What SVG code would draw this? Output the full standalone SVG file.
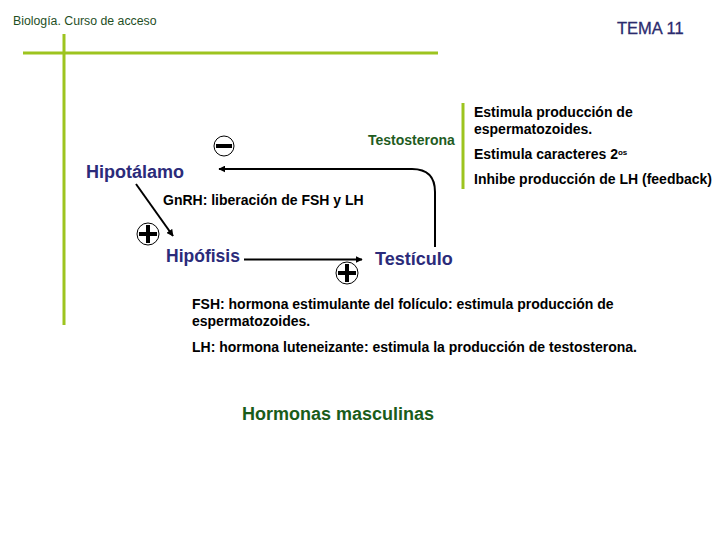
<svg xmlns="http://www.w3.org/2000/svg" width="720" height="540" viewBox="0 0 720 540">
<defs>
<marker id="ah" viewBox="0 0 10 10" refX="9" refY="5" markerWidth="7" markerHeight="7" markerUnits="userSpaceOnUse" orient="auto"><path d="M0,0 L10,5 L0,10 z" fill="#000"/></marker>
<style>
text{font-family:"Liberation Sans",Arial,sans-serif}
.b{font-weight:bold;font-size:14px;fill:#000}
.n{font-weight:bold;font-size:18px;fill:#2b2b7a}
.g{stroke:#9dc41f;stroke-width:3;fill:none}
.c{stroke:#000;stroke-width:2;fill:none}
.s{fill:#fff;stroke:#000;stroke-width:1}
</style>
</defs>
<rect width="720" height="540" fill="#fff"/>
<g id="header">
<text x="13" y="25" font-size="12.3" fill="#1f4f1f">Biología. Curso de acceso</text>
<text x="617" y="34" font-size="16.5" fill="#2b2b6e" stroke="#2b2b6e" stroke-width="0.3">TEMA 11</text>
<line class="g" x1="23" y1="53" x2="438" y2="53"/>
<line class="g" x1="64" y1="34" x2="64" y2="325"/>
<line class="g" x1="463" y1="103" x2="463" y2="189"/>
</g>
<g id="connectors">
<path class="c" d="M435 247 L435 192 Q435 169 412 169 L219 169" marker-end="url(#ah)"/>
<line class="c" x1="136" y1="184" x2="173" y2="236" marker-end="url(#ah)"/>
<line class="c" x1="244" y1="259.5" x2="362" y2="259.5" marker-end="url(#ah)"/>
</g>
<g id="signs">
<g id="minus"><circle class="s" cx="224" cy="146" r="10"/><rect x="216" y="144" width="16" height="4" fill="#000"/></g>
<g id="plus1"><circle class="s" cx="148" cy="234" r="11"/><rect x="139" y="232" width="18" height="4" fill="#000"/><rect x="146" y="225" width="4" height="18" fill="#000"/></g>
<g id="plus2"><circle class="s" cx="347" cy="273" r="11"/><rect x="338" y="271" width="18" height="4" fill="#000"/><rect x="345" y="264" width="4" height="18" fill="#000"/></g>
</g>
<g id="hipotalamo"><text class="n" x="86" y="178">Hipotálamo</text></g>
<g id="hipofisis"><text class="n" x="166" y="262" font-size="17.5" style="font-size:17.5px">Hipófisis</text></g>
<g id="testiculo"><text class="n" x="375" y="265">Testículo</text></g>
<g id="testosterona"><text class="b" x="368" y="145" style="fill:#1f5c1f">Testosterona</text></g>
<g id="gnrh"><text class="b" x="163" y="205">GnRH: liberación de FSH y LH</text></g>
<g id="efectos">
<text class="b" x="474" y="117">Estimula producción de</text>
<text class="b" x="474" y="134">espermatozoides.</text>
<text class="b" x="474" y="159">Estimula caracteres 2<tspan font-size="8" dy="-4">os</tspan></text>
<text class="b" x="474" y="184">Inhibe producción de LH (feedback)</text>
</g>
<g id="definiciones">
<text class="b" x="192" y="309">FSH: hormona estimulante del folículo: estimula producción de</text>
<text class="b" x="192" y="326">espermatozoides.</text>
<text class="b" x="192" y="352">LH: hormona luteneizante: estimula la producción de testosterona.</text>
</g>
<g id="titulo"><text x="242" y="420" font-size="18" font-weight="bold" fill="#1a5c1a">Hormonas masculinas</text></g>
</svg>
